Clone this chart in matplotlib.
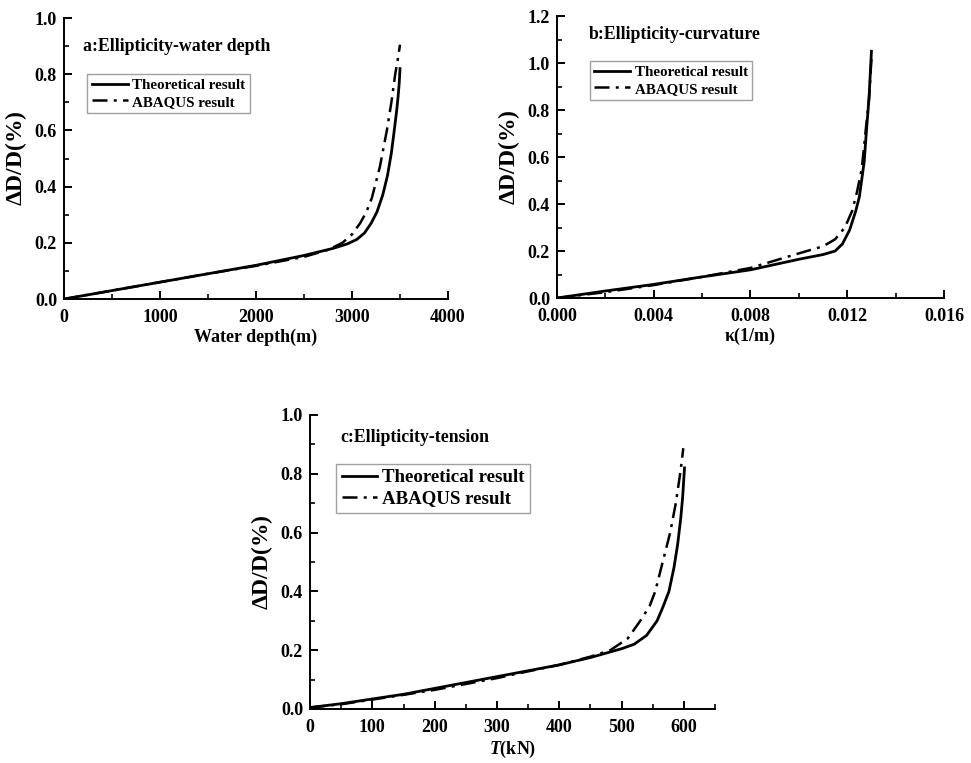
import numpy as np
import matplotlib
matplotlib.use('Agg')
import matplotlib.pyplot as plt
from matplotlib.ticker import MultipleLocator, FormatStrFormatter

plt.rcParams['font.family'] = ['Liberation Serif', 'DejaVu Serif']
plt.rcParams['font.weight'] = 'bold'
plt.rcParams['mathtext.fontset'] = 'custom'
plt.rcParams['mathtext.rm'] = 'Liberation Serif:bold'
plt.rcParams['mathtext.it'] = 'Liberation Serif:bold:italic'

# a: ellipticity vs water depth
depth_theory = [0, 500, 1000, 1500, 2000, 2500, 2800, 2950, 3050, 3130, 3200, 3260, 3320, 3370, 3410, 3440, 3465, 3480, 3492, 3500]
ovl_depth_theory = [0, 0.03, 0.06, 0.09, 0.12, 0.155, 0.18, 0.196, 0.212, 0.235, 0.27, 0.31, 0.37, 0.44, 0.52, 0.6, 0.67, 0.72, 0.77, 0.82]
depth_abaqus = [0, 500, 1000, 1500, 2000, 2500, 2750, 2900, 3000, 3085, 3150, 3207, 3290, 3363, 3410, 3450, 3480, 3500]
ovl_depth_abaqus = [0, 0.03, 0.06, 0.09, 0.118, 0.15, 0.175, 0.2, 0.23, 0.27, 0.31, 0.36, 0.47, 0.6, 0.7, 0.8, 0.86, 0.905]

# b: ellipticity vs curvature
kappa_theory = [0, 0.002, 0.004, 0.006, 0.008, 0.010, 0.011, 0.0115, 0.0118, 0.0121, 0.01235, 0.0125, 0.0127, 0.0128, 0.0129, 0.01295, 0.0130]
ovl_kappa_theory = [0, 0.03, 0.058, 0.09, 0.12, 0.165, 0.185, 0.2, 0.23, 0.29, 0.37, 0.43, 0.58, 0.72, 0.85, 0.95, 1.05]
kappa_abaqus = [0, 0.002, 0.004, 0.006, 0.008, 0.010, 0.011, 0.0115, 0.0119, 0.0122, 0.0124, 0.0126, 0.0127, 0.0128, 0.0129, 0.01295, 0.0130]
ovl_kappa_abaqus = [0, 0.025, 0.055, 0.09, 0.128, 0.19, 0.22, 0.25, 0.3, 0.37, 0.45, 0.55, 0.65, 0.75, 0.85, 0.93, 1.02]

# c: ellipticity vs tension
tension_theory = [0, 50, 100, 150, 200, 250, 300, 350, 400, 450, 500, 520, 540, 557, 567, 576, 584, 590, 595, 598, 601]
ovl_tension_theory = [0.005, 0.018, 0.034, 0.05, 0.07, 0.09, 0.11, 0.13, 0.15, 0.175, 0.205, 0.22, 0.25, 0.3, 0.35, 0.4, 0.48, 0.56, 0.65, 0.72, 0.82]
tension_abaqus = [0, 50, 100, 150, 200, 250, 300, 350, 400, 450, 482, 510, 530, 545, 554, 566, 578, 587, 594, 597, 599]
ovl_tension_abaqus = [0.005, 0.016, 0.032, 0.048, 0.065, 0.085, 0.105, 0.128, 0.15, 0.178, 0.2, 0.24, 0.3, 0.35, 0.4, 0.5, 0.6, 0.7, 0.8, 0.85, 0.887]


def style_axes(ax, xmax, xmajor, xminor, ymax, xfmt):
    for s in ['top', 'right']:
        ax.spines[s].set_visible(False)
    for s in ['left', 'bottom']:
        ax.spines[s].set_linewidth(1.4)
    ax.set_xlim(0, xmax)
    ax.set_ylim(0, ymax)
    ax.xaxis.set_major_locator(MultipleLocator(xmajor))
    ax.xaxis.set_minor_locator(MultipleLocator(xminor))
    ax.yaxis.set_major_locator(MultipleLocator(0.2))
    ax.yaxis.set_minor_locator(MultipleLocator(0.1))
    ax.xaxis.set_major_formatter(FormatStrFormatter(xfmt))
    ax.yaxis.set_major_formatter(FormatStrFormatter('%.1f'))
    ax.tick_params(which='major', direction='in', length=6, width=1.4, labelsize=13)
    ax.tick_params(which='minor', direction='in', length=3.5, width=1.2)
    ax.tick_params(axis='x', which='major', pad=7)
    ax.tick_params(axis='y', which='major', pad=5)
    ax.set_ylabel(r'$\Delta$D/D(%)', fontsize=17, fontweight='bold', labelpad=4)


def draw(ax, xt, yt, xa, ya, title, tpos, lpos, lsize, hlen):
    ax.plot(xt, yt, color='black', lw=2.0, label='Theoretical result')
    ax.plot(xa, ya, color='black', lw=1.8, ls=(0, (6, 2.5, 1.2, 2.5)), label='ABAQUS result')
    ax.text(tpos[0], tpos[1], title, transform=ax.transAxes, fontsize=12.8,
            fontweight='bold', va='center', ha='left')
    leg = ax.legend(loc='upper left', bbox_to_anchor=lpos, fontsize=lsize, frameon=True,
                    fancybox=False, edgecolor='#888888', handlelength=hlen,
                    handletextpad=0.3, borderpad=0.3, labelspacing=0.2, borderaxespad=0)
    leg.get_frame().set_linewidth(1.0)


fig = plt.figure(figsize=(9.71, 7.63), dpi=100)

ax1 = fig.add_axes([0.0659, 0.6081, 0.3955, 0.3683])
draw(ax1, depth_theory, ovl_depth_theory, depth_abaqus, ovl_depth_abaqus,
     'a:Ellipticity-water depth', (0.05, 0.90), (0.06, 0.80), 10.8, 2.4)
style_axes(ax1, 4000, 1000, 500, 1.0, '%d')
ax1.set_xlabel('Water depth(m)', fontsize=13, fontweight='bold', labelpad=2)

ax2 = fig.add_axes([0.5736, 0.6094, 0.3986, 0.3696])
draw(ax2, kappa_theory, ovl_kappa_theory, kappa_abaqus, ovl_kappa_abaqus,
     'b:Ellipticity-curvature', (0.083, 0.933), (0.085, 0.84), 10.8, 2.4)
style_axes(ax2, 0.016, 0.004, 0.002, 1.2, '%.3f')
ax2.set_xlabel('κ(1/m)', fontsize=13, fontweight='bold', labelpad=2)

ax3 = fig.add_axes([0.3193, 0.0708, 0.4171, 0.3853])
draw(ax3, tension_theory, ovl_tension_theory, tension_abaqus, ovl_tension_abaqus,
     'c:Ellipticity-tension', (0.074, 0.925), (0.064, 0.835), 13.6, 1.85)
style_axes(ax3, 650, 100, 50, 1.0, '%d')
ax3.set_xlabel(r'$T$(kN)', fontsize=13, fontweight='bold', labelpad=2)

fig.savefig('out.png', dpi=100)
